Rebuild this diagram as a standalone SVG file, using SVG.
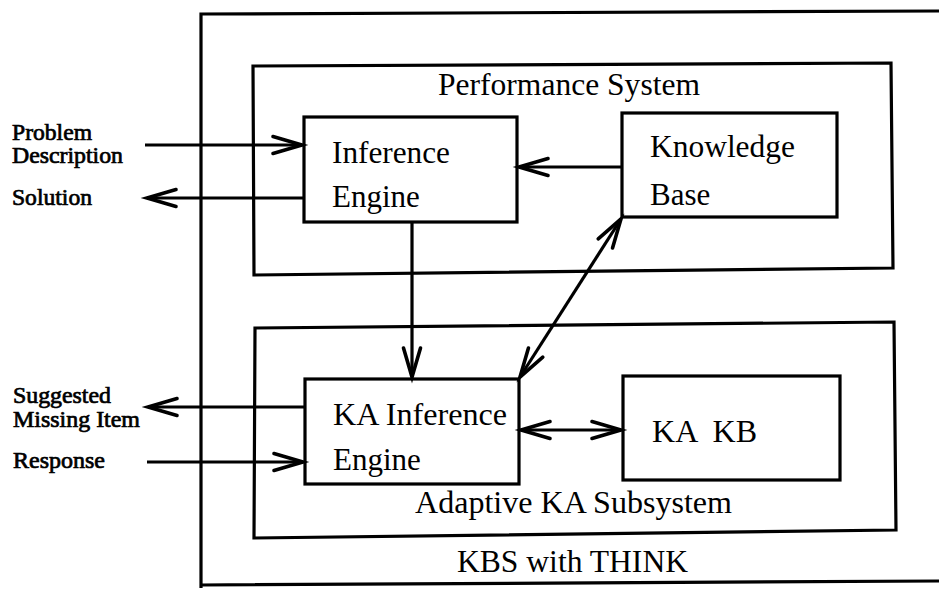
<svg xmlns="http://www.w3.org/2000/svg" width="939" height="590" viewBox="0 0 939 590">
  <style>
    .box { fill: none; stroke: #000; stroke-width: 3.2; }
    .wire { fill: none; stroke: #000; stroke-width: 3.2; }
    .t { font-family: "Liberation Serif", "Times New Roman", serif; font-size: 31px; fill: #000; }
    .lbl { font-family: "Liberation Serif", "Times New Roman", serif; font-size: 22.5px; fill: #000; stroke: #000; stroke-width: 0.7; }
  </style>
  <defs>
    <marker id="ah" markerUnits="userSpaceOnUse" markerWidth="44" markerHeight="28" viewBox="-36 -14 44 28" refX="0" refY="0" orient="auto-start-reverse" overflow="visible">
      <path d="M-29,-8.5 L0,0 L-29,8.5" fill="none" stroke="#000" stroke-width="3.6" stroke-linejoin="miter" stroke-linecap="round"/>
    </marker>
  </defs>
  <rect width="939" height="590" fill="#fff"/>

  <!-- outer KBS frame (open on the right) -->
  <g id="kbs">
    <path class="box" d="M939,11 L201,14 L201,588 M201,585 L939,581"/>
    <text class="t" x="457" y="572" textLength="231" lengthAdjust="spacingAndGlyphs">KBS with THINK</text>
  </g>

  <g id="performance-system">
    <path class="box" d="M253,66 L891,63 L893,268 L254,275 Z"/>
    <text class="t" x="438" y="95" textLength="262" lengthAdjust="spacingAndGlyphs">Performance System</text>
  </g>

  <g id="inference-engine">
    <rect class="box" x="304" y="117" width="213" height="105"/>
    <text class="t" x="332" y="163" textLength="118" lengthAdjust="spacingAndGlyphs">Inference</text>
    <text class="t" x="332" y="207">Engine</text>
  </g>

  <g id="knowledge-base">
    <rect class="box" x="622" y="113" width="215" height="104"/>
    <text class="t" x="650" y="157" textLength="145" lengthAdjust="spacingAndGlyphs">Knowledge</text>
    <text class="t" x="650" y="205">Base</text>
  </g>

  <g id="adaptive-ka-subsystem">
    <path class="box" d="M255,328 L894,322 L896,530 L254,538 Z"/>
    <text class="t" x="415" y="513" textLength="317" lengthAdjust="spacingAndGlyphs">Adaptive KA Subsystem</text>
  </g>

  <g id="ka-inference-engine">
    <rect class="box" x="305" y="379" width="214" height="105"/>
    <text class="t" x="333" y="425" textLength="174" lengthAdjust="spacingAndGlyphs">KA Inference</text>
    <text class="t" x="333" y="470">Engine</text>
  </g>

  <g id="ka-kb">
    <rect class="box" x="623" y="376" width="217" height="104"/>
    <text class="t" x="652" y="442" textLength="105" lengthAdjust="spacingAndGlyphs" xml:space="preserve">KA  KB</text>
  </g>

  <!-- external inputs / outputs -->
  <g id="io-labels">
    <text class="lbl" x="12" y="140" textLength="80" lengthAdjust="spacingAndGlyphs">Problem</text>
    <text class="lbl" x="12" y="163" textLength="111" lengthAdjust="spacingAndGlyphs">Description</text>
    <text class="lbl" x="12" y="205" textLength="80" lengthAdjust="spacingAndGlyphs">Solution</text>
    <text class="lbl" x="13" y="403" textLength="98" lengthAdjust="spacingAndGlyphs">Suggested</text>
    <text class="lbl" x="13" y="427" textLength="127" lengthAdjust="spacingAndGlyphs">Missing Item</text>
    <text class="lbl" x="13" y="468" textLength="92" lengthAdjust="spacingAndGlyphs">Response</text>
  </g>

  <g id="connectors">
    <line class="wire" x1="145" y1="145" x2="302" y2="145" marker-end="url(#ah)"/>
    <line class="wire" x1="304" y1="198" x2="147" y2="198" marker-end="url(#ah)"/>
    <line class="wire" x1="622" y1="167" x2="519" y2="167" marker-end="url(#ah)"/>
    <line class="wire" x1="412" y1="222" x2="412" y2="377" marker-end="url(#ah)"/>
    <line class="wire" x1="621" y1="219" x2="520" y2="377" marker-start="url(#ah)" marker-end="url(#ah)"/>
    <line class="wire" x1="521" y1="430" x2="621" y2="430" marker-start="url(#ah)" marker-end="url(#ah)"/>
    <line class="wire" x1="305" y1="407" x2="148" y2="407" marker-end="url(#ah)"/>
    <line class="wire" x1="147" y1="462" x2="303" y2="462" marker-end="url(#ah)"/>
  </g>
</svg>
